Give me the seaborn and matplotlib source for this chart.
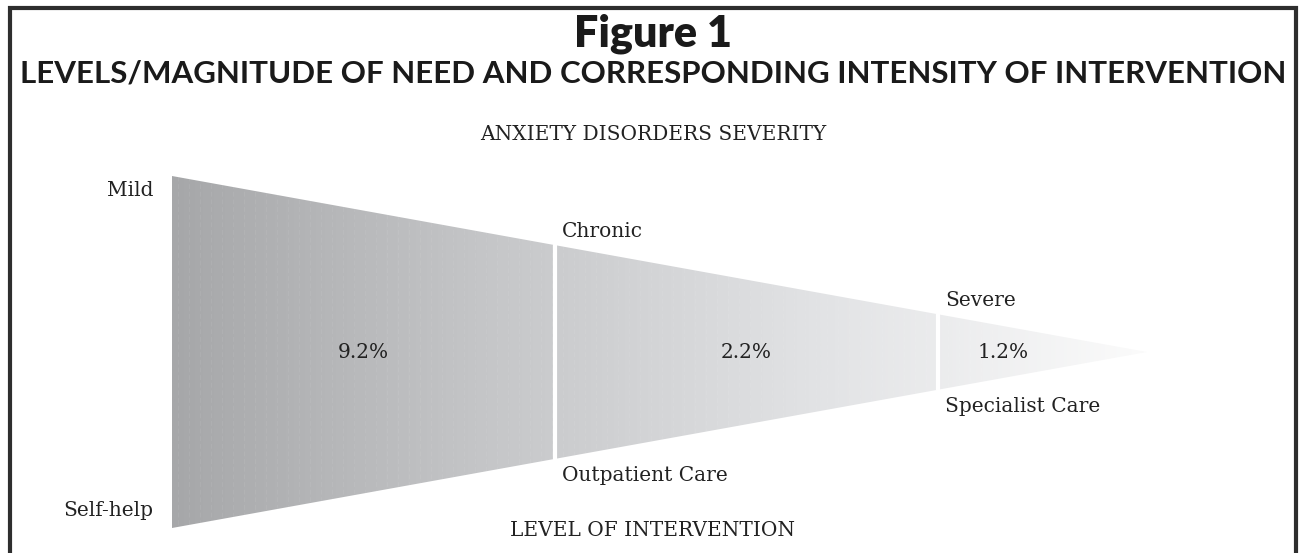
import numpy as np
import matplotlib.pyplot as plt
import seaborn as sns
from matplotlib.patches import Polygon

# stages of the funnel
severity = ["Mild", "Chronic", "Severe"]
intervention = ["Self-help", "Outpatient Care", "Specialist Care"]
prevalence = [9.2, 2.2, 1.2]

sns.set_style("white")
serif = ["DejaVu Serif"]
sans = ["Lato", "DejaVu Sans"]

W, H = 1306, 553
fig = plt.figure(figsize=(W / 100, H / 100), dpi=100)
ax = fig.add_axes([0, 0, 1, 1])
ax.set_xlim(0, W)
ax.set_ylim(H, 0)
ax.axis("off")

# wedge geometry (pixel space)
x0, x_apex, yc, half = 172, 1147, 352, 176
edges = [x0, 555, 938, x_apex]


def half_h(x):
    return half * (x_apex - x) / (x_apex - x0)


wedge = Polygon([(x0, yc - half), (x_apex, yc), (x0, yc + half)],
                closed=True, facecolor="none", edgecolor="none")
ax.add_patch(wedge)

cmap = sns.blend_palette(["#a6a7a9", "#c6c7c9", "#e2e3e5", "#fbfbfb"], as_cmap=True)
grad = np.linspace(0, 1, 512).reshape(1, -1)
im = ax.imshow(grad, cmap=cmap, aspect="auto",
               extent=[x0, x_apex, yc + half, yc - half], zorder=1)
im.set_clip_path(wedge)

# faint printed texture
for x in np.arange(x0 + 6, x_apex, 11):
    ln, = ax.plot([x, x], [yc - half, yc + half], color="white", lw=0.5,
                  ls=(0, (7, 4)), alpha=0.09, zorder=1.5)
    ln.set_clip_path(wedge)

# white dividers between stages
for x in edges[1:-1]:
    h = half_h(x)
    ax.plot([x, x], [yc - h, yc + h], color="white", lw=3, zorder=2)

# stage labels
txt = dict(family=serif, fontsize=14.5, color="#222222")
ax.text(153, 190, severity[0], ha="right", va="center", **txt)
ax.text(153, 510, intervention[0], ha="right", va="center", **txt)
for i in (1, 2):
    x = edges[i]
    h = half_h(x)
    ax.text(x + 7, yc - h - 14, severity[i], ha="left", va="center", **txt)
    ax.text(x + 7, yc + h + 17, intervention[i], ha="left", va="center", **txt)

pct_x = [363, 746, 1003]
for x, p in zip(pct_x, prevalence):
    ax.text(x, yc + 1, f"{p:.1f}%", ha="center", va="center", **txt)

ax.text(W / 2, 134, "ANXIETY DISORDERS SEVERITY", ha="center", va="center", **txt)
ax.text(W / 2, 531, "LEVEL OF INTERVENTION", ha="center", va="center", **txt)

# titles
ax.text(W / 2, 34, "Figure 1", ha="center", va="center",
        family=sans, fontsize=31, fontweight="heavy", color="#1a1a1a")
ax.text(W / 2, 74, "LEVELS/MAGNITUDE OF NEED AND CORRESPONDING INTENSITY OF INTERVENTION",
        ha="center", va="center", family=sans, fontsize=22.5, fontweight="bold",
        color="#1a1a1a")

# frame
ax.plot([10, 10, 1296, 1296], [H + 5, 8, 8, H + 5], color="#2e2e2e", lw=3,
        solid_joinstyle="miter", zorder=3)

fig.savefig("out.png", dpi=100)
